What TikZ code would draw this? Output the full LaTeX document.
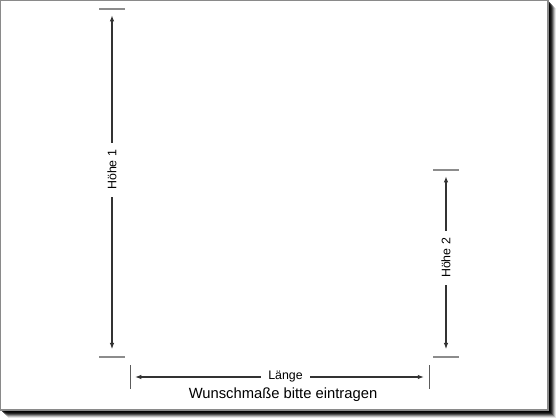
\documentclass[tikz,border=0pt]{standalone}
\usepackage{fontspec}
\setmainfont{Liberation Sans}
\usetikzlibrary{arrows.meta}

\definecolor{linegray}{HTML}{333333}
\definecolor{tickgray}{HTML}{8C8C8C}
\definecolor{framegray}{HTML}{8A8A8A}

\tikzset{
  dimline/.style={linegray,line width=0.9pt,{Latex[length=4.5pt,width=3.2pt]}-{Latex[length=4.5pt,width=3.2pt]}},
  tickline/.style={tickgray,line width=0.8pt},
  dimlabel/.style={fill=white,text=black,inner xsep=5pt,inner ysep=3.5pt,font=\fontsize{8.8}{10}\selectfont}
}

\begin{document}
\begin{tikzpicture}[x=0.025cm,y=-0.025cm]

      \useasboundingbox (0,0) rectangle (560,420);

      % sheet with shadow
      \begin{scope}
        \foreach \o/\op in {8/0.10,7/0.18,6/0.28,5/0.40,4/0.52,3/0.62,2/0.70} {
          \fill[black,opacity=\op] (\o,\o) rectangle (548+\o,410+\o);
        }
        \fill[white] (0,0) rectangle (548,410);
        \draw[framegray,line width=0.8pt] (0.5,0.5) rectangle (548,410);
      \end{scope}

      \begin{scope}
        \coordinate (h1t) at (112,9);
        \coordinate (h1b) at (112,357);
        \coordinate (h2t) at (446,170);
        \coordinate (h2b) at (446,357);
        \coordinate (ll)  at (130,377);
        \coordinate (lr)  at (429,377);
      \end{scope}

      % ticks
      \begin{scope}[tickline]
        \draw ([shift={(-13,0)}] h1t) -- ([shift={(13,0)}] h1t);
        \draw ([shift={(-13,0)}] h1b) -- ([shift={(13,0)}] h1b);
        \draw ([shift={(-13,0)}] h2t) -- ([shift={(13,0)}] h2t);
        \draw ([shift={(-13,0)}] h2b) -- ([shift={(13,0)}] h2b);
        \draw[linegray!80,line width=0.7pt] ([shift={(0,-12)}] ll) -- ([shift={(0,12)}] ll);
        \draw[linegray!80,line width=0.7pt] ([shift={(0,-12)}] lr) -- ([shift={(0,12)}] lr);
      \end{scope}

      % dimension lines
      \begin{scope}[every node/.style={dimlabel}]
        \path (h1t) edge[dimline,shorten <=4.3pt,shorten >=5.5pt] node[rotate=90,pos=0.462] (hoehe1) {Höhe 1} (h1b);
        \path (h2t) edge[dimline,shorten <=4.3pt,shorten >=5.5pt] node[rotate=90,pos=0.47] (hoehe2) {Höhe 2} (h2b);
        \path (ll) edge[dimline,shorten <=3.5pt,shorten >=3.5pt] node[pos=0.52] (laenge) {Länge} (lr);
      \end{scope}

      \node[font=\fontsize{10.5}{12}\selectfont] (hint) at (283,395) {Wunschmaße bitte eintragen};

    \end{tikzpicture}
\end{document}
